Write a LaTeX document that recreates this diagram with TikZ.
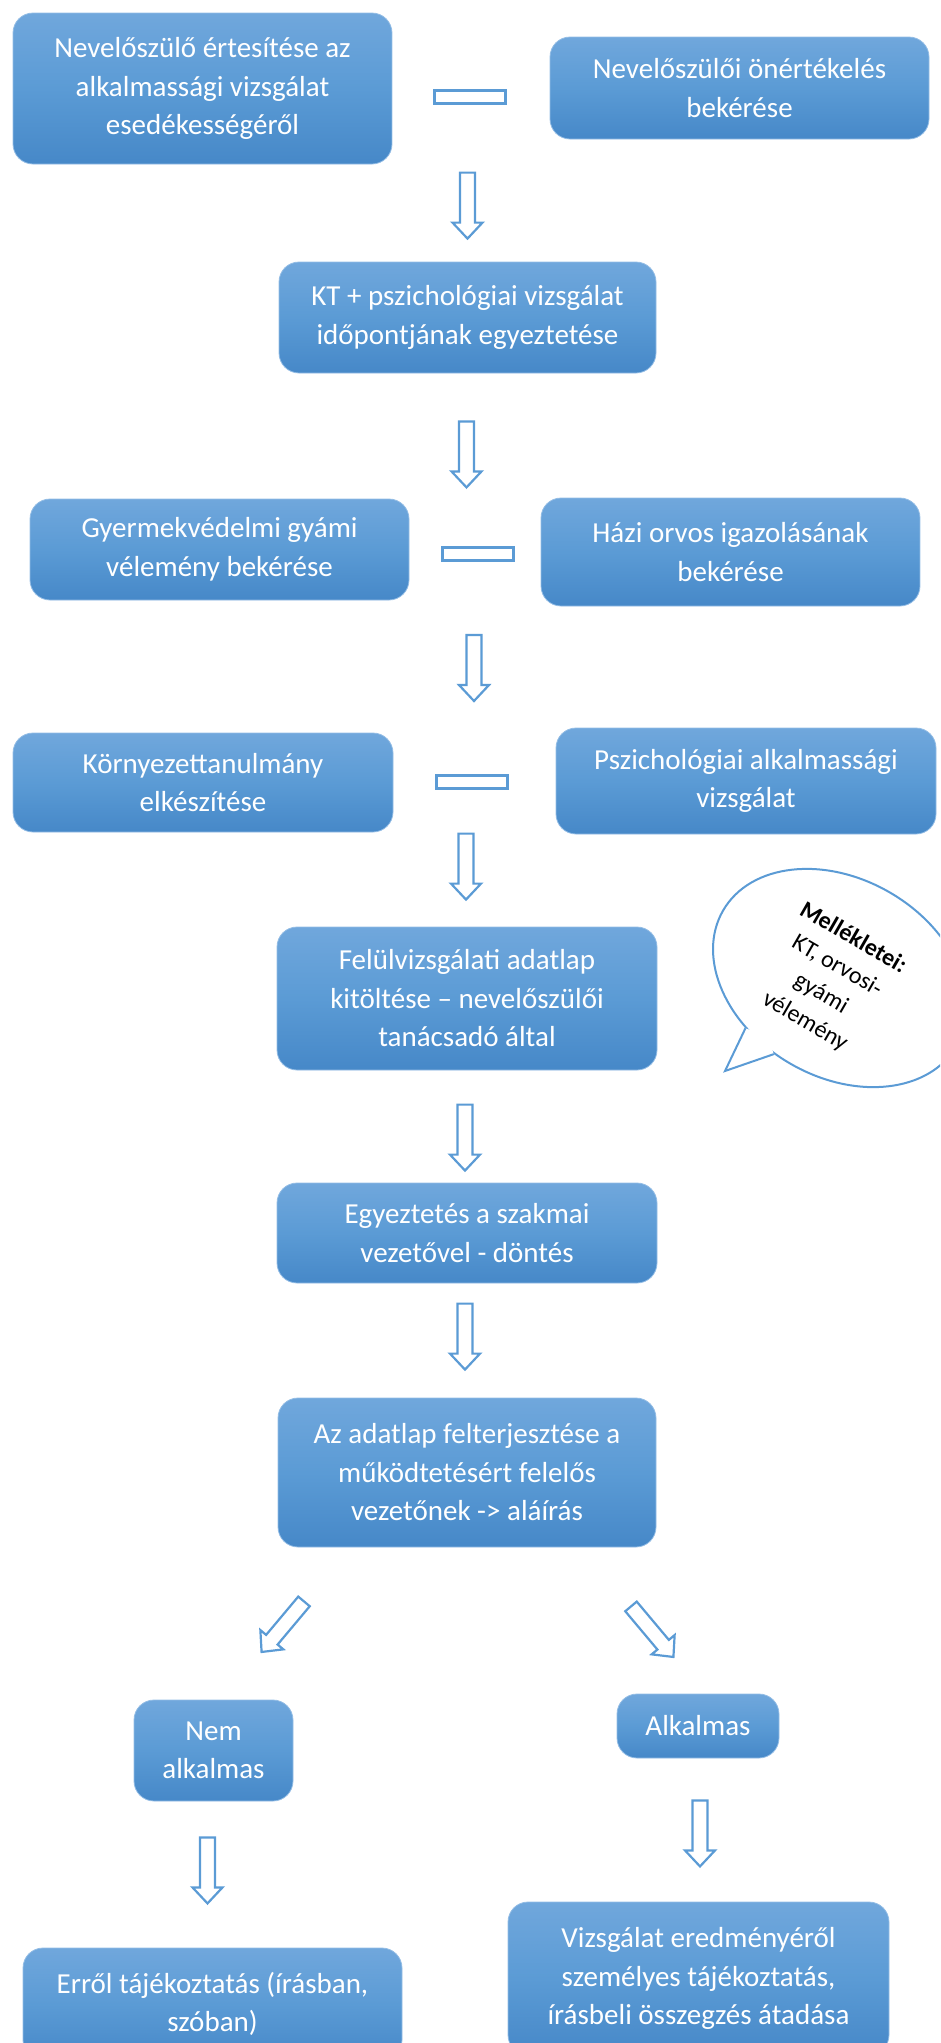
\documentclass[tikz,border=0pt]{standalone}
\usepackage{fontspec}
\setmainfont{Carlito}
\usepackage{tikz}
\usetikzlibrary{calc}
\usetikzlibrary{positioning}
\usetikzlibrary{shapes.geometric}

\definecolor{boxtop}{RGB}{112,167,220}
\definecolor{boxmid}{RGB}{91,155,213}
\definecolor{boxbot}{RGB}{70,136,200}
\definecolor{arrowblue}{RGB}{91,155,213}

\tikzset{
    stepbox/.style={rounded corners=20pt, top color=boxtop, bottom color=boxbot, middle color=boxmid,
        draw=boxtop!75!white, line width=0.8pt, text=white, align=center, inner sep=0pt,
        font=\fontsize{29}{38.5}\selectfont},
    eqbar/.style={draw=arrowblue, line width=3pt, fill=white, minimum width=71pt, minimum height=13pt, inner sep=0pt},
    arrowline/.style={draw=arrowblue, line width=2.2pt, fill=white, line join=miter},
    pics/downarr/.style={code={
        \path[arrowline] (-7.5,0) -- (7.5,0) -- (7.5,50) -- (15,50) -- (0,66) -- (-15,50) -- (-7.5,50) -- cycle;
    }}
}

\begin{document}
\begin{tikzpicture}[x=1pt, y=-1pt]

    \useasboundingbox (0,0) rectangle (940,2043);
    \clip (0,0) rectangle (940,2043);

    % first row
    \node [stepbox, minimum width=379pt, minimum height=151pt] (nevelo_ertesites) at (202.5,88.5)
        {Nevelőszülő értesítése az\\alkalmassági vizsgálat\\esedékességéről};
    \node [stepbox, minimum width=379pt, minimum height=102pt] (onertekeles) at (739.5,88)
        {Nevelőszülői önértékelés\\bekérése};
    \node [eqbar] (eq_1) at (470,97) {};

    \node [stepbox, minimum width=377pt, minimum height=111pt] (idopont_egyeztetes) at (467.5,317.5)
        {KT + pszichológiai vizsgálat\\időpontjának egyeztetése};

    % parallel requests
    \node [stepbox, minimum width=379pt, minimum height=101pt] (gyami_velemeny) at (219.5,549.5)
        {Gyermekvédelmi gyámi\\vélemény bekérése};
    \node [stepbox, minimum width=379pt, minimum height=108pt] (orvosi_igazolas) at (730.5,552)
        {Házi orvos igazolásának\\bekérése};
    \node [eqbar] (eq_2) at (478,554) {};

    \node [stepbox, minimum width=380pt, minimum height=99pt] (kornyezettanulmany) at (203,782.5)
        {Környezettanulmány\\elkészítése};
    \node [stepbox, minimum width=380pt, minimum height=106pt] (pszich_vizsgalat) at (746,781)
        {Pszichológiai alkalmassági\\vizsgálat};
    \node [eqbar] (eq_3) at (472,782) {};

    \node [stepbox, minimum width=380pt, minimum height=143pt] (adatlap_kitoltes) at (467,998.5)
        {Felülvizsgálati adatlap\\kitöltése – nevelőszülői\\tanácsadó által};
    \node [stepbox, minimum width=380pt, minimum height=100pt] (szakmai_vezeto) at (467,1233)
        {Egyeztetés a szakmai\\vezetővel - döntés};
    \node [stepbox, minimum width=378pt, minimum height=149pt] (felterjesztes) at (467,1472.5)
        {Az adatlap felterjesztése a\\működtetésért felelős\\vezetőnek -> aláírás};

    % decision
    \node [stepbox, minimum width=159pt, minimum height=101pt] (nem_alkalmas) at (213.5,1750.5)
        {Nem\\alkalmas};
    \node [stepbox, minimum width=162pt, minimum height=64pt] (alkalmas) at (698,1726)
        {Alkalmas};
    \node [stepbox, minimum width=379pt, minimum height=112pt] (errol_tajekoztatas) at (212.5,2004)
        {Erről tájékoztatás (írásban,\\szóban)};
    \node [stepbox, minimum width=381pt, minimum height=153pt] (szemelyes_tajekoztatas) at (698.5,1978.5)
        {Vizsgálat eredményéről\\személyes tájékoztatás,\\írásbeli összegzés átadása};

    % block arrows
    \pic at ($(idopont_egyeztetes.north)+(0,-89)$) {downarr};
    \pic at ($(idopont_egyeztetes.south)+(-1,48)$) {downarr};
    \pic at ($(eq_2)+(-4,81)$) {downarr};
    \pic at ($(adatlap_kitoltes.north)+(-1,-93)$) {downarr};
    \pic at ($(szakmai_vezeto.north)+(-2,-78)$) {downarr};
    \pic at ($(felterjesztes.north)+(-2,-94)$) {downarr};
    \pic [rotate=-40] at ($(felterjesztes.south)+(-163,54)$) {downarr};
    \pic [rotate=40] at ($(felterjesztes.south)+(164,59)$) {downarr};
    \pic at ($(nem_alkalmas.south)+(-6,36)$) {downarr};
    \pic at ($(alkalmas.south)+(2,42)$) {downarr};

    % callout
    \node [ellipse, draw=arrowblue, line width=2pt, fill=white, rotate=-30,
        minimum width=270pt, minimum height=198pt, inner sep=0pt] (mellekletek) at (840,978) {};
    \coordinate (callout_tip) at (725,1071);
    \fill[white] (mellekletek.238) -- (callout_tip) -- (mellekletek.259) -- ($(mellekletek.center)!0.9!(mellekletek.248)$) -- cycle;
    \draw[arrowblue, line width=2pt, line join=miter] (mellekletek.238) -- (callout_tip) -- (mellekletek.259);
    \node [rotate=-30, align=center, font=\fontsize{24}{32}\selectfont] (mellekletek_text) at (829,980)
        {\textbf{Mellékletei:}\\KT, orvosi-\\gyámi\\vélemény};

\end{tikzpicture}
\end{document}
